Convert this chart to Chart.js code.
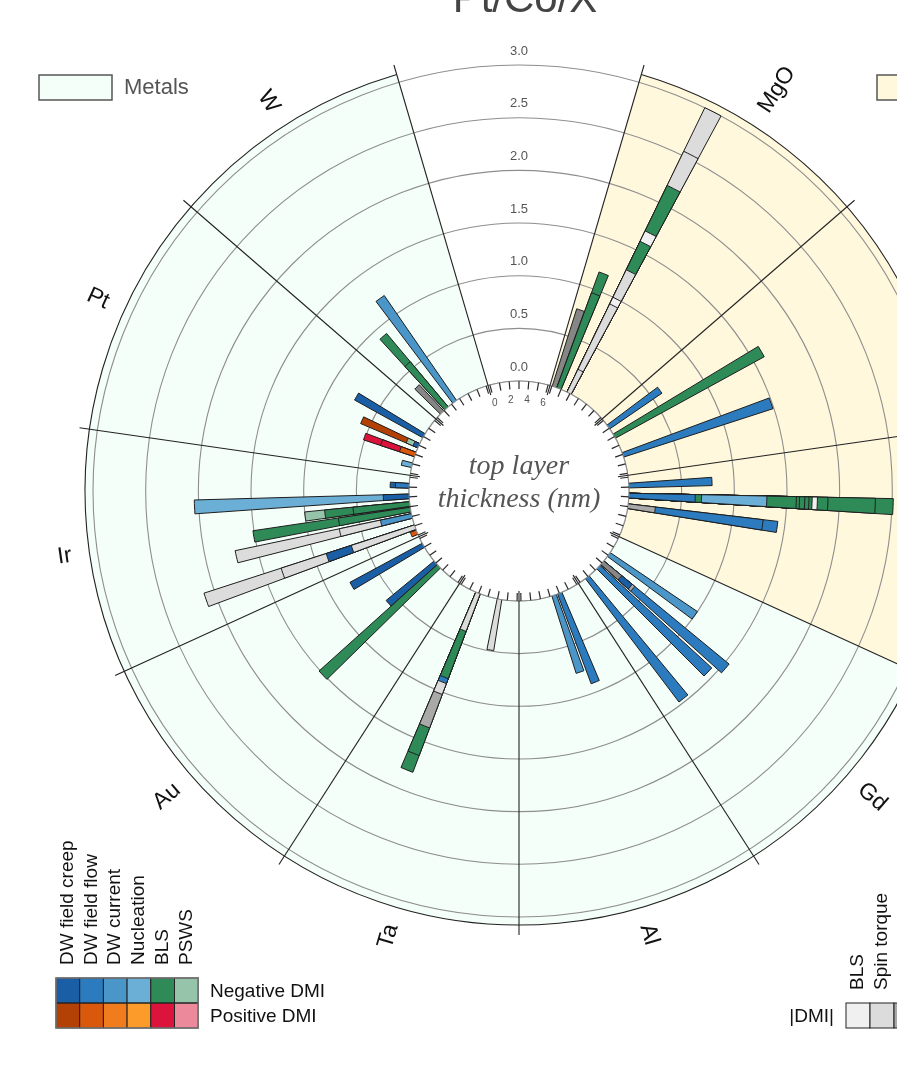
<!DOCTYPE html>
<html>
<head>
<meta charset="utf-8">
<title>Pt/Co/X</title>
<script src="https://cdn.jsdelivr.net/npm/chart.js@4.4.1/dist/chart.umd.min.js"></script>
<style>
  html, body { margin: 0; padding: 0; overflow: hidden; background: #fff; }
  canvas { display: block; }
</style>
</head>
<body>
<canvas id="dmiChart" width="1038" height="1077"></canvas>
<script>
// sectors, clockwise from the empty slot at the top
var sectorNames = ['MgO', 'AlOx', 'GdOx', 'Gd', 'Al', 'Ta', 'Au', 'Ir', 'Pt', 'W'];
var sectorKinds = ['Oxides', 'Oxides', 'Oxides', 'Metals', 'Metals', 'Metals', 'Metals', 'Metals', 'Metals', 'Metals'];
var kindNames = ['Metals', 'Oxides'];
var kindColors = ['#f5fffa', '#fff8dc'];

// radial axis |D| (rings) and angular axis inside each sector (top layer thickness, nm)
var ringValues = [0, 0.5, 1, 1.5, 2, 2.5, 3];
var thicknessTicks = [0, 1, 2, 3, 4, 5, 6];
var thicknessLabels = [0, 2, 4, 6];

// legend for signed DMI
var techKeys = ['creep', 'flow', 'current', 'nucl', 'bls', 'psws'];
var techNames = ['DW field creep', 'DW field flow', 'DW current', 'Nucleation', 'BLS', 'PSWS'];
var negColors = ['#1a5fa5', '#2c7bbe', '#4a96c9', '#6baed6', '#2e8b57', '#96c4aa'];
var posColors = ['#b34106', '#d9580c', '#f07c1e', '#fd9b2a', '#dc143c', '#ec8a9b'];
// legend for |DMI| only
var absKeys = ['g1', 'g2', 'g3', 'g4'];
var absNames = ['BLS', 'Spin torque', '', ''];
var absColors = ['#f0f0f0', '#dcdcdc', '#a9a9a9', '#868686'];

// one entry per bar
var barSector = ['MgO', 'MgO', 'MgO', 'AlOx', 'AlOx', 'AlOx', 'GdOx', 'GdOx', 'GdOx',
  'Gd', 'Gd', 'Gd', 'Gd', 'Al', 'Al', 'Ta', 'Ta', 'Au', 'Au', 'Au',
  'Ir', 'Ir', 'Ir', 'Ir', 'Ir', 'Ir', 'Ir', 'Pt', 'Pt', 'Pt', 'Pt', 'W', 'W', 'W'];
var barThickness = [0.28, 0.77, 1.90, 0.84, 1.95, 4.05, 0.85, 1.87, 2.95,
  1.90, 2.96, 3.56, 5.09, 1.95, 2.56, 1.80, 4.08, 2.55, 3.04, 5.21,
  0.30, 0.85, 2.04, 2.70, 3.27, 4.05, 5.13, 0.85, 2.00, 2.95, 4.10, 0.72, 1.33, 2.40];
var barMethods = [
  ['g4'],
  ['bls-', 'bls-'],
  ['g2', 'g2', 'g1', 'g2', 'bls-', 'g1', 'bls-', 'g2', 'g2'],
  ['flow-'],
  ['bls-'],
  ['flow-'],
  ['flow-'],
  ['flow-', 'bls-', 'nucl-', 'bls-', 'bls-', 'bls-', 'bls-', 'bls-', 'g1', 'bls-', 'bls-', 'bls-'],
  ['g3', 'flow-', 'flow-'],
  ['current-'],
  ['g4', 'creep-', 'g3', 'flow-'],
  ['flow-'],
  ['flow-'],
  ['flow-'],
  ['current-'],
  ['g2'],
  ['g2', 'bls-', 'flow-', 'g2', 'g3', 'bls-', 'bls-'],
  ['bls-'],
  ['creep-'],
  ['creep-'],
  ['flow+'],
  ['g2', 'creep-', 'g2', 'g2'],
  ['current-', 'g2', 'g2'],
  ['bls-', 'bls-'],
  ['bls-', 'bls-', 'psws-'],
  ['creep-', 'nucl-'],
  ['flow-', 'creep-'],
  ['nucl-'],
  ['flow+', 'bls+', 'bls+'],
  ['creep-', 'psws-', 'creep+'],
  ['creep-'],
  ['g4'],
  ['bls-', 'bls-'],
  ['current-']
];
var barValues = [
  [0.77],
  [0.96, 0.21],
  [0.24, 0.69, 0.07, 0.29, 0.30, 0.11, 0.48, 0.36, 0.46],
  [0.60],
  [1.61],
  [1.49],
  [0.79],
  [0.63, 0.06, 0.62, 0.28, 0.03, 0.05, 0.04, 0.03, 0.05, 0.10, 0.45, 0.17],
  [0.26, 1.03, 0.14],
  [1.00],
  [0.22, 0.13, 0.03, 1.16],
  [1.44],
  [1.47],
  [0.91],
  [0.77],
  [0.49],
  [0.38, 0.48, 0.05, 0.11, 0.34, 0.28, 0.17],
  [1.51],
  [0.59],
  [0.78],
  [0.06],
  [0.63, 0.25, 0.45, 0.77],
  [0.30, 0.40, 1.01],
  [0.69, 0.82],
  [0.54, 0.27, 0.19],
  [0.245, 1.795],
  [0.13, 0.05],
  [0.10],
  [0.15, 0.19, 0.17],
  [0.05, 0.07, 0.47],
  [0.74],
  [0.34],
  [0.56, 0.35],
  [1.21]
];

var methodColors = {};
techKeys.forEach(function (k, i) {
  methodColors[k + '-'] = negColors[i];
  methodColors[k + '+'] = posColors[i];
});
absKeys.forEach(function (k, i) { methodColors[k] = absColors[i]; });

// angular layout (degrees, clockwise from top)
var sectorSpan = 360 / (sectorNames.length + 1);
var startPad = 1;
var degPerNm = 5.12;
var barWidth = 2.45;
var holeValue = 1.044;   // radial room left for the inner disc
var outerValue = 3.076;  // outer edge of the coloured sectors

function sectorStart(i) { return sectorSpan / 2 + i * sectorSpan; }
function barCentre(b) {
  return sectorStart(sectorNames.indexOf(barSector[b])) + startPad + barThickness[b] * degPerNm;
}
function rad(deg) { return (deg - 90) * Math.PI / 180; }

// one polar-area dataset per stacking level; longer cumulative arcs sit underneath
var barOrder = barSector.map(function (_, b) { return b; })
  .sort(function (a, b) { return barCentre(a) - barCentre(b); });
var levelCount = Math.max.apply(null, barValues.map(function (v) { return v.length; }));

function makeLevel(vals, angs, fills, widths) {
  return {
    data: vals,
    backgroundColor: fills,
    borderColor: '#1e1e1e',
    borderWidth: widths,
    hoverOffset: 0,
    angle: function (c) { return angs[c.dataIndex]; }
  };
}

var datasets = [];
for (var lv = 0; lv < levelCount; lv++) {
  var vals = [], angs = [], fills = [], widths = [];
  var cursor = 0;
  barOrder.forEach(function (b) {
    if (barValues[b].length <= lv) return;
    var from = barCentre(b) - barWidth / 2;
    var top = 0;
    for (var k = 0; k <= lv; k++) top += barValues[b][k];
    vals.push(0, top);
    angs.push(Math.max(from - cursor, 0.01), barWidth);
    fills.push('rgba(0,0,0,0)', methodColors[barMethods[b][lv]]);
    widths.push(0, 1);
    cursor = from + barWidth;
  });
  datasets.push(makeLevel(vals, angs, fills, widths));
}

var SANS = '"Liberation Sans", Arial, sans-serif';

var sectorBackground = {
  id: 'sectorBackground',
  beforeDraw: function (chart) {
    var s = chart.scales.r, ctx = chart.ctx;
    var r0 = s.getDistanceFromCenterForValue(0);
    var r1 = s.getDistanceFromCenterForValue(s.max);
    ctx.save();
    sectorNames.forEach(function (name, i) {
      var a0 = sectorStart(i), a1 = a0 + sectorSpan;
      ctx.beginPath();
      ctx.arc(s.xCenter, s.yCenter, r1, rad(a0), rad(a1));
      ctx.arc(s.xCenter, s.yCenter, r0, rad(a1), rad(a0), true);
      ctx.closePath();
      ctx.fillStyle = kindColors[kindNames.indexOf(sectorKinds[i])];
      ctx.fill();
    });
    ctx.restore();
  }
};

var polarFrame = {
  id: 'polarFrame',
  afterDatasetsDraw: function (chart) {
    var s = chart.scales.r, ctx = chart.ctx;
    var cx = s.xCenter, cy = s.yCenter;
    var r0 = s.getDistanceFromCenterForValue(0);
    var r1 = s.getDistanceFromCenterForValue(s.max);
    ctx.save();
    // inner disc
    ctx.beginPath();
    ctx.arc(cx, cy, r0, 0, Math.PI * 2);
    ctx.fillStyle = '#fff';
    ctx.fill();
    ctx.strokeStyle = '#8e8e8e';
    ctx.lineWidth = 1.1;
    ctx.stroke();

    // thickness ticks, every slot including the empty one
    ctx.strokeStyle = '#2a2a2a';
    ctx.lineWidth = 1.2;
    for (var k = 0; k <= sectorNames.length; k++) {
      var slot = -sectorSpan / 2 + k * sectorSpan;
      thicknessTicks.forEach(function (t) {
        var a = rad(slot + startPad + t * degPerNm);
        ctx.beginPath();
        ctx.moveTo(cx + (r0 - 8) * Math.cos(a), cy + (r0 - 8) * Math.sin(a));
        ctx.lineTo(cx + r0 * Math.cos(a), cy + r0 * Math.sin(a));
        ctx.stroke();
      });
    }
    ctx.fillStyle = '#555';
    ctx.font = '10px ' + SANS;
    ctx.textAlign = 'center';
    ctx.textBaseline = 'middle';
    thicknessLabels.forEach(function (t) {
      var a = rad(-sectorSpan / 2 + startPad + t * degPerNm);
      ctx.fillText(String(t), cx + (r0 - 19) * Math.cos(a), cy + (r0 - 19) * Math.sin(a));
    });

    // sector boundaries
    ctx.strokeStyle = '#222';
    ctx.lineWidth = 1.1;
    for (var j = 0; j <= sectorNames.length; j++) {
      var b = rad(sectorStart(j));
      ctx.beginPath();
      ctx.moveTo(cx + (r0 - 10) * Math.cos(b), cy + (r0 - 10) * Math.sin(b));
      ctx.lineTo(cx + (r1 + 10) * Math.cos(b), cy + (r1 + 10) * Math.sin(b));
      ctx.stroke();
    }
    // outer rim of the coloured sectors
    ctx.beginPath();
    ctx.arc(cx, cy, r1, rad(sectorStart(0)), rad(sectorStart(sectorNames.length)));
    ctx.stroke();
    ctx.restore();
  },
  afterDraw: function (chart) {
    var s = chart.scales.r, ctx = chart.ctx;
    var cx = s.xCenter, cy = s.yCenter;
    var r1 = s.getDistanceFromCenterForValue(s.max);
    ctx.save();

    // ring labels in the empty slot
    ctx.fillStyle = '#555';
    ctx.font = '13px ' + SANS;
    ctx.textAlign = 'center';
    ctx.textBaseline = 'middle';
    ringValues.forEach(function (v) {
      ctx.fillText(v.toFixed(1), cx, cy - s.getDistanceFromCenterForValue(v) - 14);
    });

    // sector names
    ctx.fillStyle = '#111';
    ctx.font = '23px ' + SANS;
    sectorNames.forEach(function (name, i) {
      var deg = sectorStart(i) + sectorSpan / 2;
      var w = ctx.measureText(name).width;
      var r = r1 + 18 + w / 2;
      var a = rad(deg);
      ctx.save();
      ctx.translate(cx + r * Math.cos(a), cy + r * Math.sin(a));
      ctx.rotate(((deg < 180 ? deg - 90 : deg - 270)) * Math.PI / 180);
      ctx.fillText(name, 0, 0);
      ctx.restore();
    });

    // centre caption
    ctx.fillStyle = '#555';
    ctx.font = 'italic 28px "Liberation Serif", "Times New Roman", serif';
    ctx.textBaseline = 'alphabetic';
    ctx.fillText('top layer', cx, cy - 17);
    ctx.fillText('thickness (nm)', cx, cy + 16);

    // title
    ctx.fillStyle = '#444';
    ctx.font = '42px ' + SANS;
    ctx.fillText('Pt/Co/X', cx + 6, 12);

    // sector kind legend
    ctx.font = '22px ' + SANS;
    ctx.textAlign = 'left';
    ctx.textBaseline = 'middle';
    kindNames.forEach(function (k, i) {
      var x = i === 0 ? 39 : 877;
      ctx.fillStyle = kindColors[i];
      ctx.fillRect(x, 75, 73, 25);
      ctx.strokeStyle = '#555';
      ctx.lineWidth = 1.5;
      ctx.strokeRect(x, 75, 73, 25);
      ctx.fillStyle = '#555';
      ctx.fillText(k, x + 85, 88);
    });

    // signed DMI legend
    var lx = 56, cw = 23.7, ly = 978, rh = 25;
    ctx.font = '19px ' + SANS;
    techNames.forEach(function (name, i) {
      ctx.fillStyle = negColors[i];
      ctx.fillRect(lx + i * cw, ly, cw, rh);
      ctx.fillStyle = posColors[i];
      ctx.fillRect(lx + i * cw, ly + rh, cw, rh);
      ctx.strokeStyle = '#222';
      ctx.lineWidth = 1;
      ctx.strokeRect(lx + i * cw, ly, cw, rh);
      ctx.strokeRect(lx + i * cw, ly + rh, cw, rh);
      ctx.save();
      ctx.translate(lx + (i + 0.5) * cw, ly - 13);
      ctx.rotate(-Math.PI / 2);
      ctx.fillStyle = '#111';
      ctx.textAlign = 'left';
      ctx.fillText(name, 0, 0);
      ctx.restore();
    });
    ctx.strokeStyle = '#777';
    ctx.lineWidth = 1.5;
    ctx.strokeRect(lx, ly, cw * techNames.length, rh * 2);
    ctx.fillStyle = '#111';
    ctx.fillText('Negative DMI', 210, ly + rh / 2 + 1);
    ctx.fillText('Positive DMI', 210, ly + rh * 1.5 + 1);

    // |DMI| legend
    var ax = 846, ay = 1003;
    absNames.forEach(function (name, i) {
      ctx.fillStyle = absColors[i];
      ctx.fillRect(ax + i * 24, ay, 24, rh);
      ctx.strokeStyle = '#222';
      ctx.lineWidth = 1;
      ctx.strokeRect(ax + i * 24, ay, 24, rh);
      if (!name) return;
      ctx.save();
      ctx.translate(ax + (i + 0.5) * 24, ay - 13);
      ctx.rotate(-Math.PI / 2);
      ctx.fillStyle = '#111';
      ctx.fillText(name, 0, 0);
      ctx.restore();
    });
    ctx.fillStyle = '#111';
    ctx.textAlign = 'right';
    ctx.fillText('|DMI|', ax - 12, ay + rh / 2 + 1);
    ctx.restore();
  }
};

new Chart(document.getElementById('dmiChart'), {
  type: 'polarArea',
  data: { datasets: datasets },
  options: {
    responsive: false,
    animation: false,
    layout: { padding: { left: 85, right: 85, top: 57, bottom: 152 } },
    plugins: { legend: { display: false }, tooltip: { enabled: false } },
    events: [],
    scales: {
      r: {
        min: -holeValue,
        max: outerValue,
        startAngle: 0,
        ticks: { display: false },
        grid: { circular: true, color: '#8e8e8e', lineWidth: 1.1 },
        angleLines: { display: false },
        pointLabels: { display: false },
        afterBuildTicks: function (scale) {
          scale.ticks = [{ value: -holeValue }].concat(ringValues.map(function (v) { return { value: v }; }));
        }
      }
    }
  },
  plugins: [sectorBackground, polarFrame]
});
</script>
</body>
</html>
